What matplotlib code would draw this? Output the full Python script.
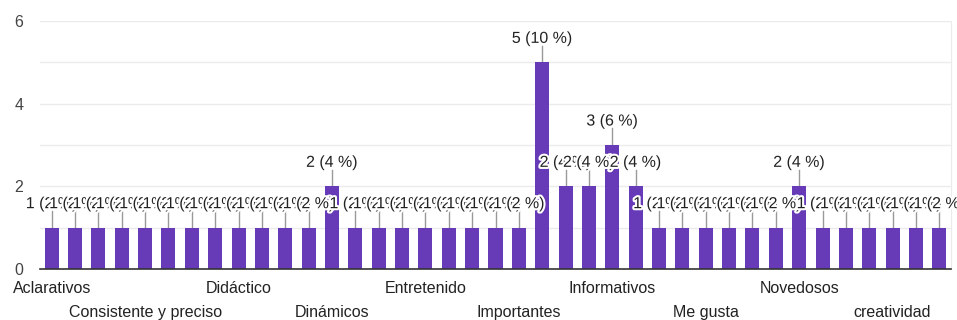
import matplotlib
matplotlib.use("Agg")
import matplotlib.pyplot as plt
import matplotlib.patheffects as pe

plt.rcParams['font.family'] = ['Liberation Sans', 'DejaVu Sans']

# data
values = [1, 1, 1, 1, 1, 1, 1, 1, 1, 1, 1, 1, 2,
          1, 1, 1, 1, 1, 1, 1, 1, 5, 2, 2, 3, 2,
          1, 1, 1, 1, 1, 1, 2, 1, 1, 1, 1, 1, 1]
total = 50
shown_labels = ["Aclarativos", "Consistente y preciso", "Didáctico", "Dinámicos",
                "Entretenido", "Importantes", "Informativos", "Me gusta",
                "Novedosos", "creatividad"]
label_step = 4
y_ticks = [0, 2, 4, 6]

W, H = 957, 320
fig = plt.figure(figsize=(W / 100, H / 100), dpi=100)
ax = fig.add_axes([40 / W, (H - 269) / H, 911 / W, 248 / H])

purple = "#673ab7"
x = list(range(len(values)))
ax.bar(x, values, width=0.6, color=purple, zorder=2)

ax.set_xlim(-0.5, len(values) - 0.5)
ax.set_ylim(0, 6)

# gridlines every 1
for g in range(1, 7):
    ax.axhline(g, color="#ebebeb", lw=1, zorder=0)
ax.set_yticks(y_ticks)
ax.set_yticklabels([str(t) for t in y_ticks], fontsize=11.5, color="#444444")
ax.tick_params(axis='y', length=0, pad=12)

for s in ["top", "left"]:
    ax.spines[s].set_visible(False)
ax.spines["right"].set_color("#ebebeb")
ax.spines["bottom"].set_color("#333333")
ax.spines["bottom"].set_linewidth(1.2)

# x labels, every 4th, alternating rows
ax.set_xticks([])
for k, name in enumerate(shown_labels):
    xi = k * label_step
    yoff = -0.47 if k % 2 == 0 else -1.05
    ax.text(xi, yoff, name, ha="center", va="center", fontsize=11.5,
            color="#222222", clip_on=False)

# annotations
for xi, v in zip(x, values):
    ax.plot([xi, xi], [v, v + 0.4], color="#999999", lw=1, zorder=1)
for xi, v in zip(x, values):
    pct = round(v / total * 100)
    ax.text(xi, v + 0.58, f"{v} ({pct} %)", ha="center", va="center",
            fontsize=11.5, color="#222222", zorder=3,
            path_effects=[pe.withStroke(linewidth=3, foreground="white")])

fig.savefig("out.png", dpi=100)
